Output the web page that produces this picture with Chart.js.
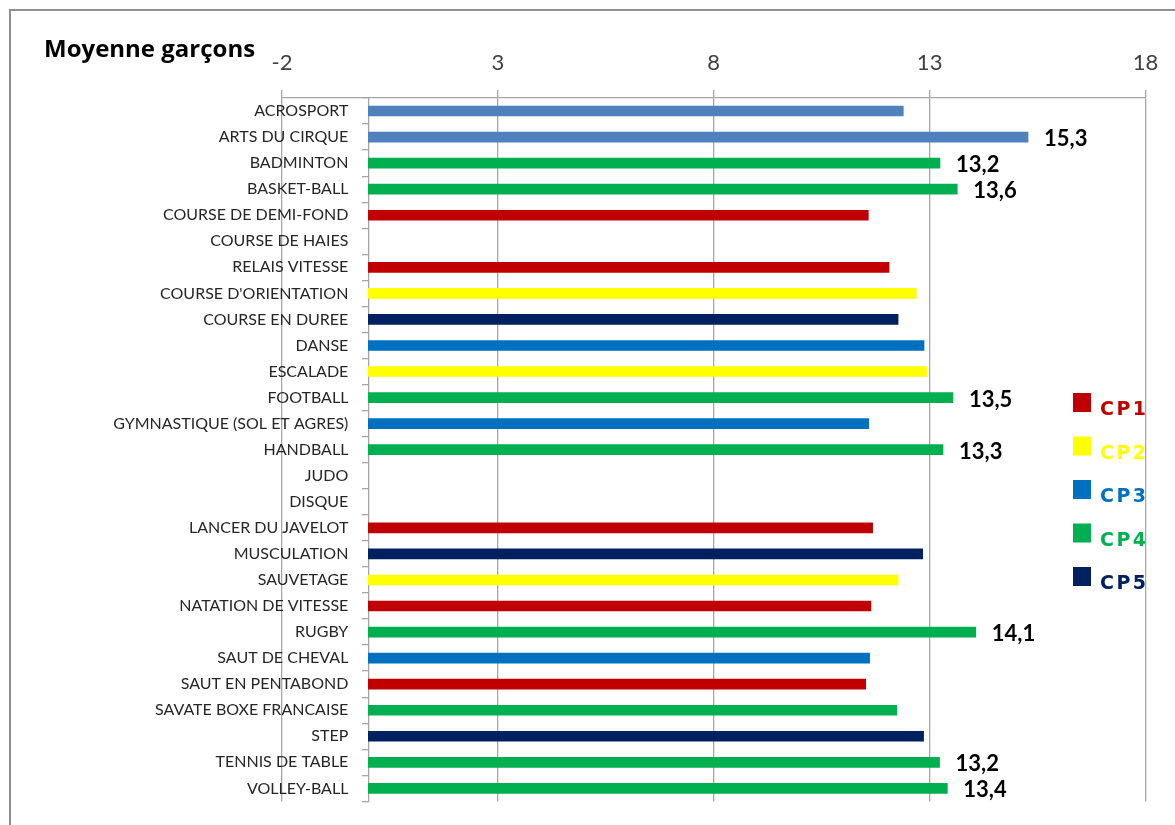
<!DOCTYPE html>
<html><head><meta charset="utf-8">
<script src="https://cdn.jsdelivr.net/npm/chart.js@4/dist/chart.umd.min.js"></script>
<style>
html,body{margin:0;padding:0;background:#fff;}
#wrap{position:relative;width:1175px;height:825px;overflow:hidden;background:#fff;}
#frame{position:absolute;left:9px;top:9px;width:1400px;height:1000px;border:2px solid #8f8f8f;box-sizing:border-box;}
canvas{position:absolute;left:0;top:0;}
</style></head><body>
<div id="wrap"><div id="frame"></div><canvas id="c" width="1175" height="825"></canvas></div>
<script>
const chartTitle = 'Moyenne garçons';
const categories = [
  'ACROSPORT','ARTS DU CIRQUE','BADMINTON','BASKET-BALL','COURSE DE DEMI-FOND','COURSE DE HAIES',
  'RELAIS VITESSE',"COURSE D'ORIENTATION",'COURSE EN DUREE','DANSE','ESCALADE','FOOTBALL',
  'GYMNASTIQUE (SOL ET AGRES)','HANDBALL','JUDO','DISQUE','LANCER DU JAVELOT','MUSCULATION',
  'SAUVETAGE','NATATION DE VITESSE','RUGBY','SAUT DE CHEVAL','SAUT EN PENTABOND',
  'SAVATE BOXE FRANCAISE','STEP','TENNIS DE TABLE','VOLLEY-BALL'
];
const n = null;
// index:        ACRO  ARTS  BAD   BASK  DEMI  HAIE  RELA  ORIE  DURE  DANS  ESCA  FOOT  GYM   HAND  JUDO DISQ JAV   MUSC  SAUV  NAT   RUGB  CHEV  PENT  SAVA  STEP  TENN  VOLL
const autres = [12.39,15.28,n,    n,    n,    n,    n,    n,    n,    n,    n,    n,    n,    n,    n,   n,   n,    n,    n,    n,    n,    n,    n,    n,    n,    n,    n];
const cp1    = [n,    n,    n,    n,    11.58,n,    12.06,n,    n,    n,    n,    n,    n,    n,    n,   n,   11.68,n,    n,    11.64,n,    n,    11.52,n,    n,    n,    n];
const cp2    = [n,    n,    n,    n,    n,    n,    n,    12.69,n,    n,    12.93,n,    n,    n,    n,   n,   n,    n,    12.27,n,    n,    n,    n,    n,    n,    n,    n];
const cp3    = [n,    n,    n,    n,    n,    n,    n,    n,    n,    12.87,n,    n,    11.59,n,    n,   n,   n,    n,    n,    n,    n,    11.61,n,    n,    n,    n,    n];
const cp4    = [n,    n,    13.24,13.64,n,    n,    n,    n,    n,    n,    n,    13.54,n,    13.31,n,   n,   n,    n,    n,    n,    14.07,n,    n,    12.24,n,    13.23,13.41];
const cp5    = [n,    n,    n,    n,    n,    n,    n,    n,    12.27,n,    n,    n,    n,    n,    n,   n,   n,    12.84,n,    n,    n,    n,    n,    n,    12.86,n,    n];
const seriesNames = ['Autres','CP1','CP2','CP3','CP4','CP5'];
const xTickMin = -2, xTickMax = 18, xTickStep = 5;
const labelThreshold = 13;

const colors = ['#4F81BD','#C00000','#FFFF00','#0070C0','#00B050','#002060'];
const seriesData = [autres, cp1, cp2, cp3, cp4, cp5];
const yLabelShift = 20;

const valueLabels = {
  id: 'valueLabels',
  afterDatasetsDraw(chart) {
    const ctx = chart.ctx;
    ctx.save();
    ctx.font = 'bold 22px Lato';
    ctx.fillStyle = '#000';
    ctx.textAlign = 'left';
    ctx.textBaseline = 'middle';
    chart.data.datasets.forEach((ds, di) => {
      const meta = chart.getDatasetMeta(di);
      meta.data.forEach((el, i) => {
        const v = ds.data[i];
        if (v == null || v < labelThreshold) return;
        ctx.fillText(v.toFixed(1).replace('.', ','), el.x + 16, el.y + 2);
      });
    });
    ctx.restore();
  }
};

const customLegend = {
  id: 'customLegend',
  afterDraw(chart) {
    const ctx = chart.ctx;
    ctx.save();
    let k = 0;
    chart.data.datasets.forEach((ds) => {
      if (!ds.inLegend) return;
      const top = 393 + k * 43.5;
      ctx.fillStyle = ds.backgroundColor;
      ctx.fillRect(1073, top, 18, 19);
      ctx.font = 'bold 19px "DejaVu Sans", sans-serif';
      if ('letterSpacing' in ctx) ctx.letterSpacing = '2.5px';
      ctx.textAlign = 'left';
      ctx.textBaseline = 'alphabetic';
      ctx.fillText(ds.label, 1100, top + 22);
      k++;
    });
    ctx.restore();
  }
};

const titlePlugin = {
  id: 'titleText',
  afterDraw(chart) {
    const ctx = chart.ctx;
    ctx.save();
    ctx.font = 'bold 24px "Open Sans"';
    ctx.fillStyle = '#000';
    ctx.textAlign = 'left';
    ctx.textBaseline = 'alphabetic';
    ctx.fillText(chartTitle, 44, 57);
    ctx.restore();
  }
};

new Chart(document.getElementById('c'), {
  type: 'bar',
  data: {
    labels: categories,
    datasets: seriesData.map((d, i) => ({
      label: seriesNames[i],
      data: d,
      backgroundColor: colors[i],
      borderWidth: 0,
      barThickness: 10,
      inLegend: i > 0
    }))
  },
  options: {
    indexAxis: 'y',
    responsive: false,
    animation: false,
    devicePixelRatio: 1,
    layout: { padding: { left: 282, right: 29.5, top: 20, bottom: 22 } },
    plugins: {
      legend: { display: false },
      tooltip: { enabled: false },
      title: { display: false }
    },
    scales: {
      x: {
        type: 'linear',
        position: 'top',
        min: xTickMin,
        max: xTickMax,
        stacked: true,
        ticks: { stepSize: xTickStep, font: { family: 'Lato', size: 22 }, color: '#404040', padding: 14 },
        grid: { color: '#a6a6a6', lineWidth: 1.3, tickLength: 8 },
        border: { color: '#a6a6a6', width: 1.3 },
        afterFit: s => { s.height = 78; }
      },
      y: {
        type: 'category',
        position: { x: 0 },
        stacked: true,
        offset: true,
        grid: { drawOnChartArea: false, drawTicks: true, tickLength: 6, color: '#a6a6a6', lineWidth: 1.3, offset: true },
        border: { display: true, color: '#a6a6a6', width: 1.3 },
        ticks: { font: { family: 'Lato', size: 16 }, color: '#262626', padding: 14, autoSkip: false },
        afterFit: s => { s.width = 0; },
        afterUpdate: s => {
          if (s._labelPatched) return;
          s._labelPatched = true;
          const orig = s._computeLabelItems.bind(s);
          s._computeLabelItems = (ca) => orig(ca).map(it => {
            const t = it.options.translation;
            it.options.translation = [t[0] - yLabelShift, t[1]];
            return it;
          });
        }
      }
    }
  },
  plugins: [valueLabels, customLegend, titlePlugin]
});
</script>
</body></html>
